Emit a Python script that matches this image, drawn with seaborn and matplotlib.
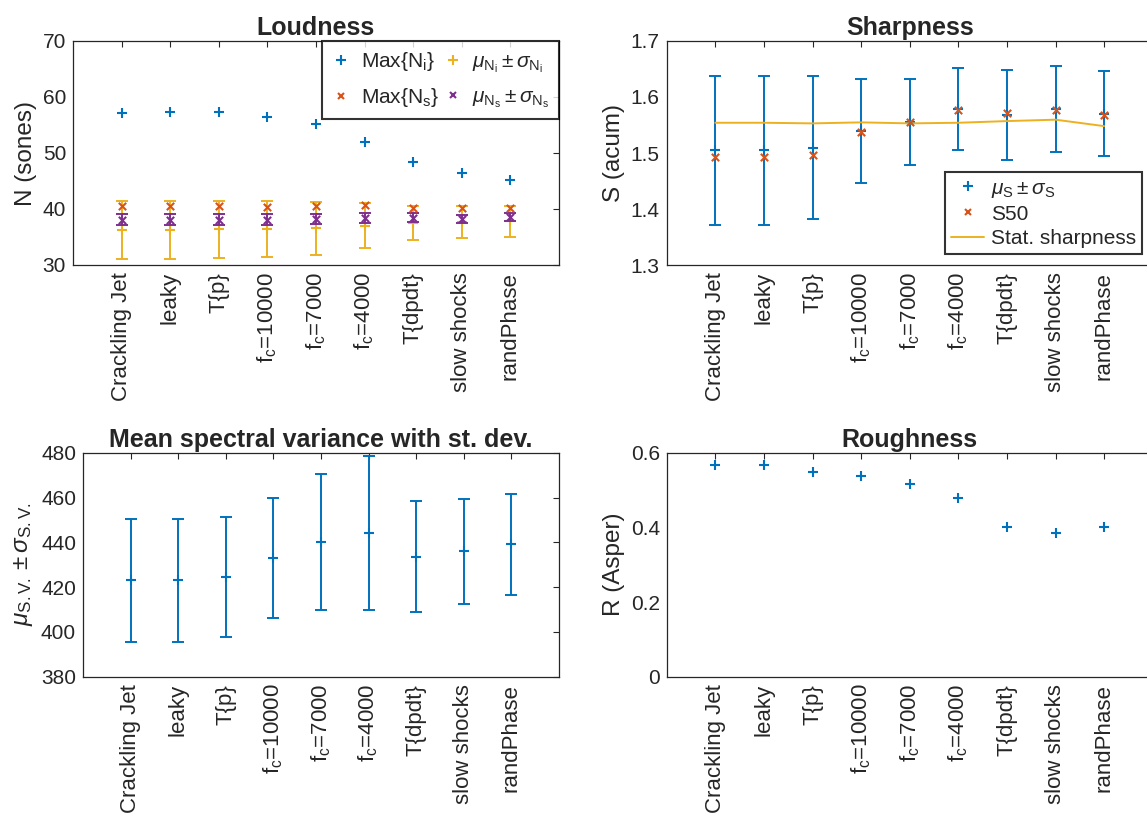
import numpy as np
import pandas as pd
import matplotlib
matplotlib.use('Agg')
import matplotlib.pyplot as plt
import seaborn as sns
from matplotlib.lines import Line2D

# ---------------- data ----------------
categories = ['Crackling Jet', 'leaky', 'T{p}', r'f$_\mathrm{c}$=10000', r'f$_\mathrm{c}$=7000',
              r'f$_\mathrm{c}$=4000', 'T{dpdt}', 'slow shocks', 'randPhase']
xpos = list(range(1, 10))

max_Ni = [57.1, 57.3, 57.3, 56.4, 55.1, 52.0, 48.4, 46.5, 45.2]
max_Ns = [40.5, 40.5, 40.5, 40.4, 40.5, 40.7, 40.2, 40.2, 40.2]
mu_Ni = [36.25, 36.25, 36.35, 36.4, 36.55, 37.05, 37.55, 37.7, 37.8]
sd_Ni = [5.15, 5.15, 5.05, 5.0, 4.75, 4.05, 3.05, 2.9, 2.8]
mu_Ns = [38.1, 38.1, 38.1, 38.1, 38.15, 38.45, 38.47, 38.24, 38.6]
sd_Ns = [0.95, 0.95, 0.95, 0.95, 0.9, 0.9, 0.87, 0.69, 0.74]

mu_S = [1.5045, 1.5045, 1.5095, 1.539, 1.5557, 1.578, 1.568, 1.578, 1.5705]
sd_S = [0.1325, 0.1325, 0.1275, 0.0925, 0.0773, 0.073, 0.0806, 0.077, 0.0755]
S50 = [1.492, 1.4925, 1.4963, 1.5375, 1.556, 1.5774, 1.572, 1.5768, 1.567]
stat_S = [1.554, 1.554, 1.5529, 1.5547, 1.5529, 1.554, 1.557, 1.5595, 1.548]

mu_SV = [423.0, 423.0, 424.5, 433.1, 440.1, 444.3, 433.6, 436.0, 439.1]
sd_SV = [27.3, 27.3, 26.9, 26.8, 30.4, 34.3, 24.65, 23.5, 22.55]

R = [0.568, 0.566, 0.549, 0.538, 0.516, 0.478, 0.400, 0.384, 0.402]

# ---------------- style ----------------
sns.set_style('white')
plt.rcParams['font.family'] = ['Liberation Sans', 'DejaVu Sans']
plt.rcParams['mathtext.fontset'] = 'custom'
plt.rcParams['mathtext.rm'] = 'Liberation Sans'
plt.rcParams['mathtext.it'] = 'Liberation Sans:italic'
plt.rcParams['mathtext.bf'] = 'Liberation Sans:bold'

BLUE = '#0072BD'
ORANGE = '#D95319'
YELLOW = '#EDB120'
PURPLE = '#7E2F8E'
AXC = '#262626'

XTICK_FS = 16
YTICK_FS = 15
LABEL_FS = 17.5
TITLE_FS = 18
LEG_FS = 15

PLUS_S = 45
X_S = 28
MLW = 1.5

W, H = 1147, 814
fig = plt.figure(figsize=(W / 100, H / 100), dpi=100)

def px_axes(left, top, width, height):
    return fig.add_axes([left / W, 1 - (top + height) / H, width / W, height / H])

ax1 = px_axes(73, 41, 486, 224)
ax2 = px_axes(666.7, 41, 486, 224)
ax3 = px_axes(83, 452.7, 476, 224)
ax4 = px_axes(666.7, 452.7, 486, 224)

def style_axes(ax, title, ylabel):
    ax.set_xlim(0, 10)
    ax.set_xticks(xpos)
    ax.set_xticklabels(categories, rotation=90, fontsize=XTICK_FS, color=AXC)
    ax.tick_params(direction='in', length=4, width=0.8, top=True, right=True,
                   colors=AXC, pad=5)
    ax.tick_params(axis='y', labelsize=YTICK_FS)
    for s in ax.spines.values():
        s.set_color(AXC)
        s.set_linewidth(0.9)
        s.set_visible(True)
    ax.set_title(title, fontsize=TITLE_FS, fontweight='bold', pad=4)
    ax.set_ylabel(ylabel, fontsize=LABEL_FS, color=AXC)
    ax.grid(False)

cap = 4.5
elw = 1.4

# ---- Loudness ----
ax1.errorbar(xpos, mu_Ni, yerr=sd_Ni, fmt='none', ecolor=YELLOW, elinewidth=elw, capsize=cap,
             capthick=elw, zorder=2)
ax1.errorbar(xpos, mu_Ns, yerr=sd_Ns, fmt='none', ecolor=PURPLE, elinewidth=elw, capsize=cap,
             capthick=elw, zorder=3)
sns.scatterplot(x=xpos, y=mu_Ni, marker='+', s=PLUS_S, linewidth=MLW, color=YELLOW, ax=ax1, zorder=2)
sns.scatterplot(x=xpos, y=mu_Ns, marker='x', s=X_S, linewidth=MLW, color=PURPLE, ax=ax1, zorder=3)
sns.scatterplot(x=xpos, y=max_Ni, marker='+', s=PLUS_S, linewidth=MLW, color=BLUE, ax=ax1, zorder=4)
sns.scatterplot(x=xpos, y=max_Ns, marker='x', s=X_S, linewidth=MLW, color=ORANGE, ax=ax1, zorder=4)
ax1.set_ylim(30, 70)
ax1.set_yticks([30, 40, 50, 60, 70])
style_axes(ax1, 'Loudness', 'N (sones)')
h1 = [Line2D([], [], ls='', marker='+', ms=6.5, mew=MLW, color=BLUE),
      Line2D([], [], ls='', marker='x', ms=5, mew=MLW, color=ORANGE),
      Line2D([], [], ls='', marker='+', ms=6.5, mew=MLW, color=YELLOW),
      Line2D([], [], ls='', marker='x', ms=5, mew=MLW, color=PURPLE)]
l1 = [r'Max{N$_\mathrm{i}$}', r'Max{N$_\mathrm{s}$}',
      r'$\mu_{\mathrm{N}_\mathrm{i}}\pm\sigma_{\mathrm{N}_\mathrm{i}}$',
      r'$\mu_{\mathrm{N}_\mathrm{s}}\pm\sigma_{\mathrm{N}_\mathrm{s}}$']
leg1 = ax1.legend(h1, l1, ncol=2, loc='upper right', bbox_to_anchor=(1, 1), borderaxespad=0,
                  fontsize=LEG_FS, frameon=True, fancybox=False, edgecolor='black',
                  handlelength=0.9, handletextpad=0.5, columnspacing=0.2, labelspacing=0.6,
                  borderpad=0.45)
leg1.get_frame().set_linewidth(1.5)

# ---- Sharpness ----
ax2.errorbar(xpos, mu_S, yerr=sd_S, fmt='none', ecolor=BLUE, elinewidth=elw, capsize=cap,
             capthick=elw, zorder=2)
sns.scatterplot(x=xpos, y=mu_S, marker='+', s=PLUS_S, linewidth=MLW, color=BLUE, ax=ax2, zorder=2)
sns.scatterplot(x=xpos, y=S50, marker='x', s=X_S, linewidth=MLW, color=ORANGE, ax=ax2, zorder=4)
sns.lineplot(x=xpos, y=stat_S, color=YELLOW, linewidth=1.4, ax=ax2, zorder=3)
ax2.set_ylim(1.3, 1.7)
ax2.set_yticks([1.3, 1.4, 1.5, 1.6, 1.7])
ax2.set_yticklabels(['1.3', '1.4', '1.5', '1.6', '1.7'])
style_axes(ax2, 'Sharpness', 'S (acum)')
h2 = [Line2D([], [], ls='', marker='+', ms=6.5, mew=MLW, color=BLUE),
      Line2D([], [], ls='', marker='x', ms=5, mew=MLW, color=ORANGE),
      Line2D([], [], ls='-', lw=1.4, color=YELLOW)]
l2 = [r'$\mu_\mathrm{S}\pm\sigma_\mathrm{S}$', 'S50', 'Stat. sharpness']
leg2 = ax2.legend(h2, l2, loc='lower right', bbox_to_anchor=(0.978, 0.048), borderaxespad=0,
                  fontsize=LEG_FS, frameon=True, fancybox=False, edgecolor='black',
                  handlelength=1.6, handletextpad=0.3, labelspacing=0.25, borderpad=0.3)
leg2.get_frame().set_linewidth(1.5)

# ---- Spectral variance ----
ax3.errorbar(xpos, mu_SV, yerr=sd_SV, fmt='none', ecolor=BLUE, elinewidth=elw, capsize=cap,
             capthick=elw, zorder=2)
sns.scatterplot(x=xpos, y=mu_SV, marker='+', s=PLUS_S, linewidth=MLW, color=BLUE, ax=ax3, zorder=3)
ax3.set_ylim(380, 480)
ax3.set_yticks([380, 400, 420, 440, 460, 480])
style_axes(ax3, 'Mean spectral variance with st. dev.',
           r'$\mu_{\mathrm{S.V.}}\pm\sigma_{\mathrm{S.V.}}$')

# ---- Roughness ----
sns.scatterplot(x=xpos, y=R, marker='+', s=PLUS_S, linewidth=MLW, color=BLUE, ax=ax4, zorder=3)
ax4.set_ylim(0, 0.6)
ax4.set_yticks([0, 0.2, 0.4, 0.6])
ax4.set_yticklabels(['0', '0.2', '0.4', '0.6'])
style_axes(ax4, 'Roughness', 'R (Asper)')

fig.savefig('out.png', dpi=100)
